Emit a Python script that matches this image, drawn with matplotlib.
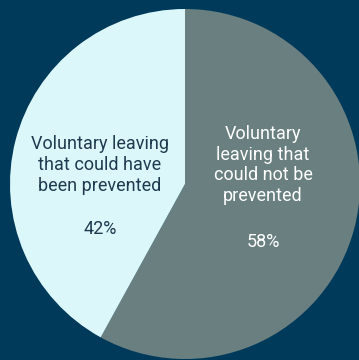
import matplotlib.pyplot as plt

LABELS = ['Voluntary\nleaving that\ncould not be\nprevented', 'Voluntary leaving\nthat could have\nbeen prevented']
VALUES = [58, 42]
COLORS = ['#697f80', '#dbf7fa']
TEXT_COLORS = ['#ffffff', '#1e3a4f']
BG = '#003a5a'

plt.rcParams['font.family'] = ['Roboto', 'DejaVu Sans']

fig = plt.figure(figsize=(3.59, 3.6), dpi=100, facecolor=BG)
ax = fig.add_axes([0, 0, 1, 1])
ax.set_facecolor(BG)

cx, cy, r = 185, 360 - 184, 175
ax.pie(VALUES, colors=COLORS, startangle=90, counterclock=False,
       center=(cx, cy), radius=r,
       wedgeprops=dict(linewidth=0))

# label positions (pixel coords, from top-left)
label_pos = [(263, 165), (100, 165)]
pct_pos = [(263, 242), (100, 229)]
for lab, val, tc, (lx, ly), (px, py) in zip(LABELS, VALUES, TEXT_COLORS, label_pos, pct_pos):
    ax.text(lx, 360 - ly, lab, ha='center', va='center', fontsize=13,
            color=tc, linespacing=1.2)
    ax.text(px, 360 - py, '%d%%' % val, ha='center', va='center', fontsize=13, color=tc)

ax.set_xlim(0, 359)
ax.set_ylim(0, 360)
ax.set_aspect('auto')
ax.axis('off')

fig.savefig('out.png', dpi=100, facecolor=BG)
